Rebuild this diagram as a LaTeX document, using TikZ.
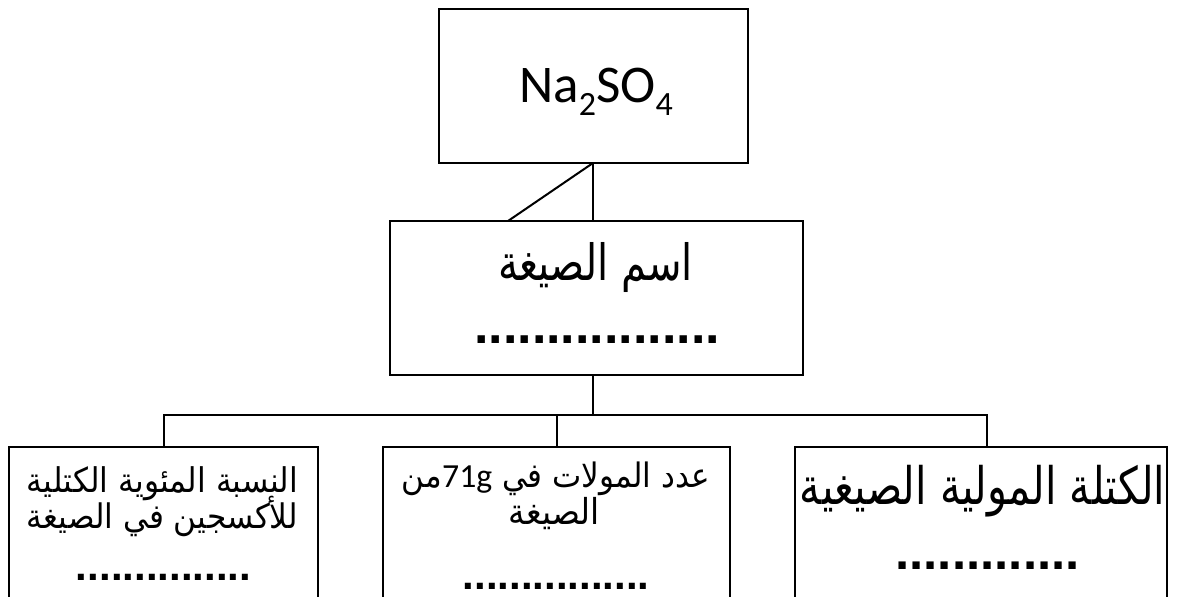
\documentclass[tikz,border=0pt]{standalone}
\usepackage{fontspec}
\usepackage{graphicx}
\setmainfont{Carlito}
\newfontfamily\arabicfont[Script=Arabic, FakeStretch=0.8]{DejaVu Sans}
\newfontfamily\arabicsmall[Script=Arabic, FakeStretch=0.92]{DejaVu Sans}
\newfontfamily\dotfont{Liberation Sans}
\TeXXeTstate=1
\usetikzlibrary{calc}
\tikzset{
  boxstyle/.style={draw, line width=2pt, inner sep=0pt, outer sep=0pt},
  conn/.style={draw, line width=2pt},
  txt/.style={inner sep=0pt, outer sep=0pt, anchor=base},
}
\newcommand{\dotrow}[2]{{\dotfont\fontsize{#1}{#1}\selectfont\bfseries #2}}
\begin{document}
\begin{tikzpicture}[x=1pt,y=-1pt]
\useasboundingbox (0,0) rectangle (1178,597);
\fill[white] (0,0) rectangle (1178,597);
\clip (0,0) rectangle (1178,597);
% boxes
\node[boxstyle, minimum width=309pt, minimum height=154pt] (top) at (593.5,86) {};
\node[boxstyle, minimum width=413pt, minimum height=154pt] (mid) at (596.5,298) {};
\node[boxstyle, minimum width=309pt, minimum height=193pt] (left) at (163.5,543.5) {};
\node[boxstyle, minimum width=347pt, minimum height=193pt] (cen) at (556.5,543.5) {};
\node[boxstyle, minimum width=372pt, minimum height=193pt] (right) at (981,543.5) {};
% connectors
\coordinate (j) at (593,415);
\draw[conn] ([xshift=-0.5pt]top.south) -- ([xshift=-0.5pt]top.south |- mid.north);
\draw[conn] ([xshift=-0.5pt]top.south) -- ([xshift=-85.5pt]top.south |- mid.north);
\draw[conn] (mid.south -| j) -- (j);
\draw[conn] (left.north) |- (j) -| ([xshift=6pt]right.north);
\draw[conn] (cen.north) -- (cen.north |- j);
% texts
\node[txt] (formula) at (596,102) {\fontsize{53}{60}\selectfont Na\raisebox{-13pt}{\fontsize{34}{34}\selectfont 2}SO\raisebox{-13pt}{\fontsize{34}{34}\selectfont 4}};
\node[txt] (name) at (595.5,280) {\resizebox{195pt}{!}{\arabicfont\beginR اسم الصيغة\endR}};
\node[txt] (namedots) at (597,343) {\dotrow{52}{.................}};
\node[txt] (mass) at (982.5,504) {\resizebox{365pt}{!}{\arabicfont\beginR الكتلة المولية الصيغية\endR}};
\node[txt] (massdots) at (987.5,569) {\dotrow{51}{.............}};
\node[txt] (pct1) at (162.5,492) {\resizebox{271pt}{!}{\arabicsmall\beginR النسبة المئوية الكتلية\endR}};
\node[txt] (pct2) at (162.5,528) {\resizebox{271pt}{!}{\arabicsmall\beginR للأكسجين في الصيغة\endR}};
\node[txt] (pctdots) at (163.5,580) {\dotrow{42}{...............}};
\node[txt] (mol1) at (556,487) {\resizebox{308pt}{!}{\arabicsmall\beginR عدد المولات في \beginL{\fontspec{Carlito}71g}\endL من\endR}};
\node[txt] (mol2) at (554.5,524) {\resizebox{91pt}{!}{\arabicsmall\beginR الصيغة\endR}};
\node[txt] (moldots) at (556,589) {\dotrow{42}{................}};
\end{tikzpicture}
\end{document}
